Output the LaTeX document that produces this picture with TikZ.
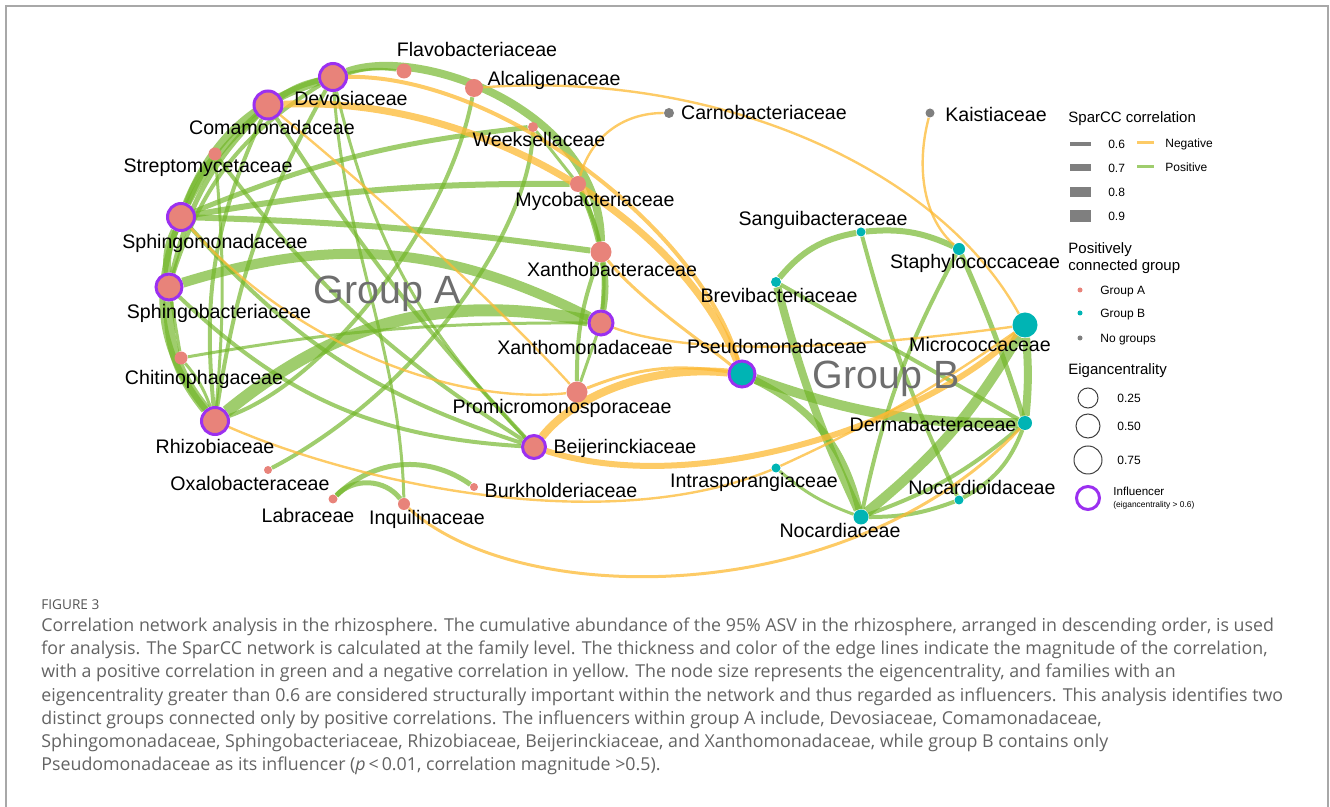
\documentclass[tikz,border=0pt]{standalone}
\usepackage{fontspec}
\setmainfont{Liberation Sans}
\newfontfamily\capfont{Open Sans}
\usepackage{xcolor}
\usetikzlibrary{positioning, backgrounds}
\definecolor{grpared}{HTML}{E8837A}
\definecolor{grpbteal}{HTML}{00B4B4}
\definecolor{nogray}{HTML}{7F7F7F}
\definecolor{inflpurple}{HTML}{9B30F0}
\definecolor{posgreen}{HTML}{72B628}
\definecolor{neggold}{HTML}{FDB933}
\definecolor{grouptxt}{HTML}{6E6E6E}
\definecolor{framegray}{HTML}{A8A8A8}
\definecolor{captxt}{HTML}{636363}
\tikzset{
  fam/.style={circle, inner sep=0pt, minimum size=#1},
  grpA/.style={fam=#1, fill=grpared},
  grpB/.style={fam=#1, fill=grpbteal},
  nogrp/.style={fam=#1, fill=nogray},
  infl/.style={draw=inflpurple, line width=1.5pt},
  famlbl/.style={font=\fontsize{9.8}{11}\selectfont, inner sep=0pt, text height=7pt, text depth=0pt},
  grouplbl/.style={font=\fontsize{19.7}{22}\selectfont, text=grouptxt, inner sep=0pt, text height=14pt, text depth=0pt},
  poslink/.style={draw=posgreen, line width=#1, opacity=0.68},
  neglink/.style={draw=neggold, line width=#1, opacity=0.75},
  legtitle/.style={font=\fontsize{7.5}{8.5}\selectfont, inner sep=0pt, anchor=west, text height=5.4pt, text depth=0pt},
  legitem/.style={font=\fontsize{6}{7}\selectfont, inner sep=0pt, anchor=west, text height=4.3pt, text depth=0pt},
  legring/.style={circle, draw=black!75, line width=0.5pt, inner sep=0pt, minimum size=#1},
}
\begin{document}
\begin{tikzpicture}[x=0.5pt, y=-0.5pt]
\useasboundingbox (0,0) rectangle (1330,807);
\draw[framegray, line width=1pt] (6,807) -- (6,6) -- (1328,6) -- (1328,807);

\node[grpA=13.5pt, infl] (devo) at (333,77) {};
\node[grpA=14pt, infl] (coma) at (268,105) {};
\node[grpA=7.5pt] (flav) at (404,71) {};
\node[grpA=9pt] (alca) at (474,88) {};
\node[grpA=5pt] (week) at (533,127) {};
\node[grpA=6.5pt] (strep) at (215,154) {};
\node[grpA=8pt] (myco) at (578,184) {};
\node[grpA=13.5pt, infl] (sphm) at (181,217) {};
\node[grpA=10.5pt] (xbac) at (601,252) {};
\node[grpA=13pt, infl] (sphb) at (169,287) {};
\node[grpA=12pt, infl] (xanm) at (601,323) {};
\node[grpA=6.5pt] (chit) at (181,358) {};
\node[grpA=10.5pt] (prom) at (577,392) {};
\node[grpA=13.5pt, infl] (rhiz) at (215,421) {};
\node[grpA=11.5pt, infl] (beij) at (534,447) {};
\node[grpA=4pt] (oxal) at (268,470) {};
\node[grpA=4pt] (burk) at (474,487) {};
\node[grpA=4.5pt] (labr) at (333,499) {};
\node[grpA=6pt] (inqu) at (404,504) {};
\node[nogrp=5pt] (carn) at (669,113) {};
\node[nogrp=4.5pt] (kais) at (930,113) {};
\node[grpB=4.5pt] (sang) at (861,232) {};
\node[grpB=6pt] (staph) at (959,249) {};
\node[grpB=5pt] (brev) at (776,282) {};
\node[grpB=12.5pt] (micr) at (1025,325) {};
\node[grpB=13pt, infl] (psd) at (742,374) {};
\node[grpB=7pt] (derm) at (1025,423) {};
\node[grpB=4.5pt] (intr) at (776,468) {};
\node[grpB=4.5pt] (ncdi) at (959,500) {};
\node[grpB=7.5pt] (noca) at (861,517) {};

\node[famlbl] (flavlbl) at (477,50) {Flavobacteriaceae};
\node[famlbl] (alcalbl) at (554,79) {Alcaligenaceae};
\node[famlbl] (devolbl) at (351,99) {Devosiaceae};
\node[famlbl] (comalbl) at (272,128) {Comamonadaceae};
\node[famlbl] (weeklbl) at (539,140) {Weeksellaceae};
\node[famlbl] (streplbl) at (208,166) {Streptomycetaceae};
\node[famlbl] (mycolbl) at (595,200) {Mycobacteriaceae};
\node[famlbl] (sphmlbl) at (215,242) {Sphingomonadaceae};
\node[famlbl] (xbaclbl) at (612,270) {Xanthobacteraceae};
\node[famlbl] (sphblbl) at (219,312) {Sphingobacteriaceae};
\node[famlbl] (xanmlbl) at (585,348) {Xanthomonadaceae};
\node[famlbl] (chitlbl) at (204,378) {Chitinophagaceae};
\node[famlbl] (promlbl) at (562,407) {Promicromonosporaceae};
\node[famlbl] (rhizlbl) at (215,447) {Rhizobiaceae};
\node[famlbl] (beijlbl) at (625,447) {Beijerinckiaceae};
\node[famlbl] (oxallbl) at (250,484) {Oxalobacteraceae};
\node[famlbl] (burklbl) at (561,491) {Burkholderiaceae};
\node[famlbl] (labrlbl) at (308,516) {Labraceae};
\node[famlbl] (inqulbl) at (427,518) {Inquilinaceae};
\node[famlbl] (carnlbl) at (764,113) {Carnobacteriaceae};
\node[famlbl] (kaislbl) at (996,115) {Kaistiaceae};
\node[famlbl] (sanglbl) at (823,219) {Sanguibacteraceae};
\node[famlbl] (staphlbl) at (975,262) {Staphylococcaceae};
\node[famlbl] (brevlbl) at (779,296) {Brevibacteriaceae};
\node[famlbl] (micrlbl) at (980,345) {Micrococcaceae};
\node[famlbl] (psdlbl) at (777,347) {Pseudomonadaceae};
\node[famlbl] (dermlbl) at (933,425) {Dermabacteraceae};
\node[famlbl] (intrlbl) at (754,481) {Intrasporangiaceae};
\node[famlbl] (ncdilbl) at (982,488) {Nocardioidaceae};
\node[famlbl] (nocalbl) at (840,531) {Nocardiaceae};
\node[grouplbl] (grpalbl) at (387,290) {Group A};
\node[grouplbl] (grpblbl) at (886,375) {Group B};

\begin{scope}[on background layer]
\draw[poslink=3pt] (devo) to[bend right=10] (coma);
\draw[poslink=4pt] (devo) to[bend right=25] (sphm);
\draw[poslink=3pt] (coma) to[bend right=10] (sphm);
\draw[poslink=2.5pt] (coma) to[bend right=15] (sphb);
\draw[poslink=2pt] (devo) to[bend right=20] (sphb);
\draw[poslink=4pt] (sphm) to[bend right=15] (sphb);
\draw[poslink=5pt] (sphb) to[bend right=20] (rhiz);
\draw[poslink=3pt] (sphm) to[bend right=30] (rhiz);
\draw[poslink=2pt] (coma) to[bend right=15] (rhiz);
\draw[poslink=2pt] (devo) to[bend right=10] (rhiz);
\draw[poslink=2pt] (strep) to[bend right=10] (sphm);
\draw[poslink=1.5pt] (strep) to[bend left=5] (rhiz);
\draw[poslink=1.5pt] (chit) -- (sphb);
\draw[poslink=1.5pt] (chit) to[bend left=10] (rhiz);
\draw[poslink=1.2pt] (devo) to[bend left=10] (flav);
\draw[poslink=4pt] (devo) .. controls (420,45) and (600,110) .. (xbac);
\draw[poslink=2pt] (oxal) .. controls (420,390) and (530,230) .. (week);
\draw[poslink=2pt] (alca) .. controls (450,220) and (330,380) .. (rhiz);
\draw[poslink=2.5pt] (sphm) to[bend left=8] (week);
\draw[poslink=3pt] (sphm) to[bend left=5] (myco);
\draw[poslink=3pt] (sphm) to[bend left=3] (xbac);
\draw[poslink=5pt] (sphb) to[bend left=22] (xanm);
\draw[poslink=6pt] (rhiz) to[bend left=25] (xanm);
\draw[poslink=1.5pt] (chit) to[bend left=5] (xanm);
\draw[poslink=2pt] (strep) to[bend right=10] (beij);
\draw[poslink=2pt] (coma) to[bend right=5] (beij);
\draw[poslink=1.5pt] (devo) to[bend right=15] (beij);
\draw[poslink=2pt] (sphm) to[bend right=15] (beij);
\draw[poslink=2pt] (sphb) to[bend right=20] (beij);
\draw[poslink=1.5pt] (devo) .. controls (345,250) and (400,350) .. (inqu);
\draw[poslink=2.5pt] (labr) to[bend left=40] (burk);
\draw[poslink=2.5pt] (labr) to[bend left=50] (inqu);
\draw[poslink=2.5pt] (myco) to[bend left=5] (xbac);
\draw[poslink=1.5pt] (week) -- (myco);
\draw[poslink=3pt] (xbac) to[bend left=10] (xanm);
\draw[poslink=2pt] (myco) to[bend left=15] (xanm);
\draw[poslink=2pt] (xbac) to[bend right=10] (prom);
\draw[poslink=1.5pt] (xanm) -- (prom);
\draw[poslink=5pt] (psd) to[bend right=10] (derm);
\draw[poslink=2pt] (brev) -- (derm);
\draw[poslink=3.5pt] (psd) to[bend left=25] (noca);
\draw[poslink=3pt] (brev) to[bend left=20] (sang);
\draw[poslink=3pt] (sang) to[bend left=15] (staph);
\draw[poslink=4pt] (brev) to[bend right=5] (noca);
\draw[poslink=2pt] (sang) to[bend right=5] (ncdi);
\draw[poslink=2.5pt] (staph) to[bend left=3] (derm);
\draw[poslink=2pt] (staph) to[bend right=8] (noca);
\draw[poslink=5pt] (micr) to[bend left=10] (noca);
\draw[poslink=4pt] (micr) to[bend left=5] (derm);
\draw[poslink=2pt] (derm) to[bend left=10] (noca);
\draw[poslink=2pt] (derm) to[bend left=20] (ncdi);
\draw[poslink=2pt] (ncdi) to[bend left=10] (noca);
\draw[poslink=1.5pt] (intr) to[bend right=10] (noca);

\draw[neglink=3.5pt] (coma) .. controls (480,95) and (680,220) .. (psd);
\draw[neglink=2pt] (devo) .. controls (500,75) and (700,230) .. (psd);
\draw[neglink=1.2pt] (coma) .. controls (420,230) and (530,340) .. (prom);
\draw[neglink=1.2pt] (sphm) .. controls (300,350) and (460,405) .. (prom);
\draw[neglink=1.2pt] (xanm) .. controls (700,360) and (880,345) .. (micr);
\draw[neglink=1.5pt] (xbac) .. controls (640,300) and (700,340) .. (psd);
\draw[neglink=1.5pt] (prom) to[bend left=15] (psd);
\draw[neglink=4pt] (beij) .. controls (575,395) and (650,365) .. (psd);
\draw[neglink=3pt] (beij) .. controls (700,500) and (930,420) .. (micr);
\draw[neglink=1.2pt] (intr) to[bend right=5] (micr);
\draw[neglink=1.2pt] (rhiz) .. controls (350,480) and (600,540) .. (intr);
\draw[neglink=1.5pt] (inqu) .. controls (520,610) and (850,610) .. (derm);
\draw[neglink=1.2pt] (alca) .. controls (720,70) and (940,170) .. (micr);
\draw[neglink=1.2pt] (kais) .. controls (915,170) and (925,220) .. (staph);
\draw[neglink=1.2pt] (myco) .. controls (590,140) and (620,113) .. (carn);
\end{scope}

\node[legtitle] (corrttl) at (1068,117) {SparCC correlation};
\node[fill=nogray, inner sep=0pt, minimum width=10.5pt, minimum height=2pt] (bar6) at (1080,144) {};
\node[fill=nogray, inner sep=0pt, minimum width=10.5pt, minimum height=3.5pt] (bar7) at (1080,168) {};
\node[fill=nogray, inner sep=0pt, minimum width=10.5pt, minimum height=5pt] (bar8) at (1080,192) {};
\node[fill=nogray, inner sep=0pt, minimum width=10.5pt, minimum height=6pt] (bar9) at (1080,216) {};
\node[legitem, right=8.5pt of bar6] (bar6lbl) {0.6};
\node[legitem, right=8.5pt of bar7] (bar7lbl) {0.7};
\node[legitem, right=8.5pt of bar8] (bar8lbl) {0.8};
\node[legitem, right=8.5pt of bar9] (bar9lbl) {0.9};
\draw[neglink=1.5pt] (1137,143) -- (1154,143);
\draw[poslink=1.5pt] (1137,167) -- (1154,167);
\node[legitem] (neglbl) at (1165,143) {Negative};
\node[legitem] (poslbl) at (1165,167) {Positive};
\node[legtitle] (grpttl) at (1068,248) {Positively};
\node[legtitle] (grpttl2) at (1068,265) {connected group};
\node[grpA=2.5pt] (dota) at (1080,290) {};
\node[grpB=2.5pt] (dotb) at (1080,313) {};
\node[nogrp=2.5pt] (dotn) at (1080,338) {};
\node[legitem] (dotalbl) at (1100,290) {Group A};
\node[legitem] (dotblbl) at (1100,313) {Group B};
\node[legitem] (dotnlbl) at (1100,338) {No groups};
\node[legtitle] (eigttl) at (1068,369) {Eigancentrality};
\node[legring=10pt] (ring25) at (1088,398) {};
\node[legring=12pt] (ring50) at (1088,426) {};
\node[legring=14pt] (ring75) at (1088,460) {};
\node[legitem] (ring25lbl) at (1117,398) {0.25};
\node[legitem] (ring50lbl) at (1117,426) {0.50};
\node[legitem] (ring75lbl) at (1117,460) {0.75};
\node[circle, infl, inner sep=0pt, minimum size=11.5pt] (ringinf) at (1088,498) {};
\node[legitem, font=\fontsize{5.8}{7}\selectfont] (inflbl) at (1113,491) {Influencer};
\node[legitem, font=\fontsize{4.2}{5}\selectfont, text height=3pt] (inflbl2) at (1113,505) {(eigancentrality > 0.6)};

\node[anchor=base west, inner sep=0pt, font=\capfont\fontsize{6.8}{8}\selectfont, text=captxt!85!black] (figtag) at (41,610) {FIGURE 3};
\node[anchor=base west, inner sep=0pt, align=left, font=\capfont\fontsize{8.9}{11.65}\selectfont, text=captxt] (capbody) at (41,771) {Correlation network analysis in the rhizosphere. The cumulative abundance of the 95\% ASV in the rhizosphere, arranged in descending order, is used\\
for analysis. The SparCC network is calculated at the family level. The thickness and color of the edge lines indicate the magnitude of the correlation,\\
with a positive correlation in green and a negative correlation in yellow. The node size represents the eigencentrality, and families with an\\
eigencentrality greater than 0.6 are considered structurally important within the network and thus regarded as influencers. This analysis identifies two\\
distinct groups connected only by positive correlations. The influencers within group A include, Devosiaceae, Comamonadaceae,\\
Sphingomonadaceae, Sphingobacteriaceae, Rhizobiaceae, Beijerinckiaceae, and Xanthomonadaceae, while group B contains only\\
Pseudomonadaceae as its influencer (\textit{p}\,<\,0.01, correlation magnitude >0.5).};
\end{tikzpicture}
\end{document}
